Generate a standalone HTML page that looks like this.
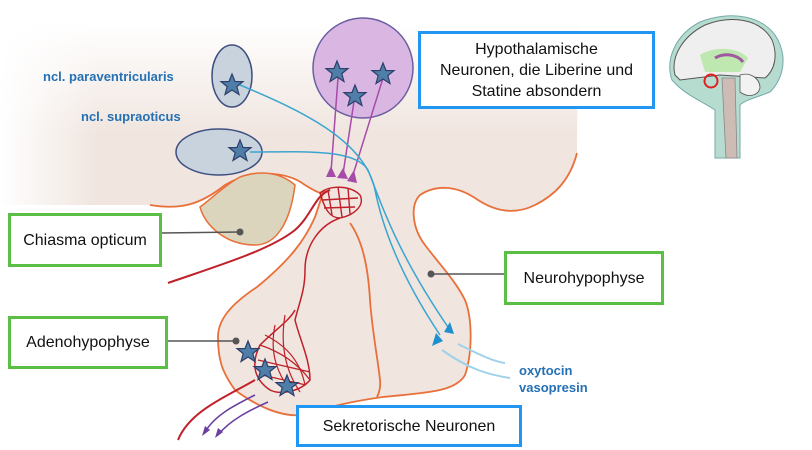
<!DOCTYPE html>
<html><head><meta charset="utf-8"><style>
html,body{margin:0;padding:0;background:#fff;width:812px;height:450px;overflow:hidden;position:relative;font-family:"Liberation Sans",Arial,sans-serif}
.box{position:absolute;background:#fff;box-sizing:border-box;display:flex;align-items:center;justify-content:center;text-align:center;color:#111;font-size:16px;line-height:21px}
.b{border:3px solid #2196f3}.g{border:3px solid #5cbf45}
.lab{position:absolute;color:#2470b5;font-weight:bold;font-size:13px}
</style></head><body>
<svg width="812" height="450" style="position:absolute;left:0;top:0">
<defs>
<linearGradient id="vt" x1="0" y1="0" x2="0" y2="450" gradientUnits="userSpaceOnUse"><stop offset="0.05" stop-color="#000"/><stop offset="0.3" stop-color="#fff"/></linearGradient>
<linearGradient id="hz" x1="0" y1="0" x2="812" y2="0" gradientUnits="userSpaceOnUse"><stop offset="0" stop-color="#000"/><stop offset="0.12" stop-color="#fff"/></linearGradient>
<mask id="m1" maskUnits="userSpaceOnUse" x="0" y="0" width="812" height="450"><rect width="812" height="450" fill="url(#vt)"/></mask>
<mask id="m2" maskUnits="userSpaceOnUse" x="0" y="0" width="812" height="450"><rect width="812" height="450" fill="url(#hz)"/></mask>
<polygon id="st" points="0,-11 3,-3.5 11,-3.4 4.8,1.6 7,9.5 0,5 -7,9.5 -4.8,1.6 -11,-3.4 -3,-3.5" fill="#4f7ea8" stroke="#2d3f6a" stroke-width="1.2"/>
</defs>
<g mask="url(#m2)"><g mask="url(#m1)">
<path d="M0,20 L578,20 L577,153 C570,180 555,195 535,205 C515,215 495,212 475,198 C455,185 435,185 420,195 C410,205 412,228 425,245 L315,217 L323,193 L325,190 C322,195 318,193 305,185 C285,170 250,170 225,185 C200,205 180,210 150,205 L0,205 Z" fill="#f0e5df"/>
</g></g>
<path d="M323,193 L315,217 C305,240 290,260 257,287 C230,305 218,320 218,337 C218,360 222,372 235,390 C255,405 280,417 300,415 C320,410 340,403 383,397 C420,393 455,393 465,375 C472,355 473,320 465,300 C455,280 440,265 425,245 L315,217 Z" fill="#f0e5df" stroke="#f0e5df" stroke-width="1"/>
<path d="M323,193 L315,217 C305,240 290,260 257,287 C230,305 218,320 218,337 C218,360 222,372 235,390 C255,405 280,417 300,415 C320,410 340,403 383,397 C420,393 455,393 465,375 C472,355 473,320 465,300 C455,280 440,265 425,245 C412,228 410,205 420,195 C435,185 455,185 475,198 C495,212 515,215 535,205 C555,195 570,180 577,153" fill="none" stroke="#e8703a" stroke-width="1.8"/>
<path d="M350,223 C362,240 368,265 370,300 C372,330 378,360 380,380 C381,390 378,395 377,397" fill="none" stroke="#e8703a" stroke-width="1.8"/>
<path d="M150,205 C180,210 200,205 225,185 C250,170 285,170 305,185 C318,193 322,195 325,190" fill="none" stroke="#e8703a" stroke-width="1.8"/>
<path d="M200,207 C205,225 225,245 255,245 C275,245 290,225 295,185 C280,172 260,170 240,177 C225,185 210,200 200,207Z" fill="#dcd5bd" stroke="#e8703a" stroke-width="1.5"/>
<path d="M168,283 C220,265 270,250 295,230 C312,215 315,195 330,190" fill="none" stroke="#c0202a" stroke-width="2"/>
<path d="M320,193 C330,185 350,185 360,195 C365,205 355,215 340,218 C330,218 325,210 320,193Z M328,190 L332,215 M338,187 L342,217 M348,188 L350,214 M322,200 L358,198 M324,208 L355,207" fill="none" stroke="#c0202a" stroke-width="1.4"/>
<path d="M340,218 C320,225 305,245 305,270 C305,290 300,300 295,320 C300,340 310,360 310,380 C300,392 280,395 270,390 C255,380 250,365 260,345 C275,330 290,320 295,310" fill="none" stroke="#c0202a" stroke-width="1.5"/>
<path d="M260,345 C275,350 295,360 310,380 M265,335 C285,345 300,360 305,385 M275,325 C270,350 275,370 290,390 M285,315 C280,345 285,370 300,392 M258,360 L310,372 M262,375 L306,385" fill="none" stroke="#c0202a" stroke-width="1.2"/>
<path d="M255,380 C230,395 190,410 178,440" fill="none" stroke="#c0202a" stroke-width="2"/>
<path d="M255,395 C235,405 215,415 205,432 M268,402 C250,410 230,420 218,435" fill="none" stroke="#6a3fa0" stroke-width="1.6"/>
<polygon points="202,436 205,426 210,430" fill="#6a3fa0"/><polygon points="215,438 218,428 223,432" fill="#6a3fa0"/>
<ellipse cx="232" cy="76" rx="20" ry="31" fill="#c8d3de" stroke="#3d4f80" stroke-width="1.5"/>
<ellipse cx="219" cy="152" rx="43" ry="23" fill="#c8d3de" stroke="#3d4f80" stroke-width="1.5"/>
<circle cx="363" cy="68" r="50" fill="#d9b7e2" stroke="#6b5fa0" stroke-width="1.5"/>
<path d="M338,78 L331,172 M355,95 L343,174 M383,78 L352,178" stroke="#a64ba8" stroke-width="1.5" fill="none"/>
<polygon points="326,177 331,166 336,177" fill="#a64ba8"/><polygon points="337,178 343,168 348,179" fill="#a64ba8"/><polygon points="347,181 354,170 357,183" fill="#a64ba8"/>
<path d="M240,85 C300,110 365,140 375,190 C385,240 410,290 440,335" fill="none" stroke="#3aa5d0" stroke-width="1.5"/>
<path d="M250,152 C300,152 355,148 368,170 C380,200 395,250 450,330" fill="none" stroke="#3aa5d0" stroke-width="1.5"/>
<polygon points="432,346 436,333 443,341" fill="#1e90d0"/><polygon points="444,332 450,322 454,334" fill="#1e90d0"/>
<path d="M442,350 C470,370 490,375 510,378 M458,344 C480,355 495,362 505,363" fill="none" stroke="#9fd2ea" stroke-width="2"/>
<use href="#st" x="232" y="85"/><use href="#st" x="240" y="151"/>
<use href="#st" x="337" y="72"/><use href="#st" x="383" y="74"/><use href="#st" x="355" y="96"/>
<use href="#st" x="248" y="352"/><use href="#st" x="265" y="370"/><use href="#st" x="287" y="386"/>
<path d="M162,233 L240,232" stroke="#555" stroke-width="1.5"/><circle cx="240" cy="232" r="3.5" fill="#555"/>
<path d="M168,341 L236,341" stroke="#555" stroke-width="1.5"/><circle cx="236" cy="341" r="3.5" fill="#555"/>
<path d="M504,274 L431,274" stroke="#555" stroke-width="1.5"/><circle cx="431" cy="274" r="3.5" fill="#555"/>
<g transform="translate(660,0)">
<path d="M55,158 L55,110 C40,100 25,95 12,80 C5,60 15,35 40,22 C70,10 105,15 118,40 C128,60 122,80 110,92 C95,98 85,100 80,105 L80,158 Z" fill="#b6dccf" stroke="#7aa"/>
<path d="M15,75 C10,55 25,35 45,25 C70,15 100,18 112,40 C118,55 115,70 105,78 L60,75 L20,80 Z" fill="#efefef" stroke="#555" stroke-width="1"/>
<path d="M40,55 C55,45 80,48 88,58 L80,72 L45,72 Z" fill="#bfe8b0"/>
<path d="M55,58 C65,52 78,55 83,62" fill="none" stroke="#a058a0" stroke-width="3"/>
<path d="M62,78 L75,78 L77,158 L66,158 Z" fill="#cdbcb4" stroke="#888" stroke-width=".8"/>
<path d="M80,75 C90,72 100,78 100,88 C98,96 88,98 80,92 Z" fill="#f2f2f2" stroke="#555" stroke-width=".8"/>
<circle cx="51" cy="81" r="6.5" fill="none" stroke="#e02020" stroke-width="2"/>
</g>
</svg>
<div class="lab" style="left:43px;top:69px">ncl. paraventricularis</div>
<div class="lab" style="left:81px;top:109px">ncl. supraoticus</div>
<div class="lab" style="left:519px;top:363px">oxytocin</div>
<div class="lab" style="left:519px;top:380px">vasopresin</div>
<div class="box b" style="left:418px;top:31px;width:237px;height:78px">Hypothalamische<br>Neuronen, die Liberine und<br>Statine absondern</div>
<div class="box g" style="left:8px;top:213px;width:154px;height:54px">Chiasma opticum</div>
<div class="box g" style="left:504px;top:251px;width:160px;height:54px">Neurohypophyse</div>
<div class="box g" style="left:8px;top:316px;width:160px;height:53px">Adenohypophyse</div>
<div class="box b" style="left:296px;top:405px;width:226px;height:42px">Sekretorische Neuronen</div>
</body></html>
